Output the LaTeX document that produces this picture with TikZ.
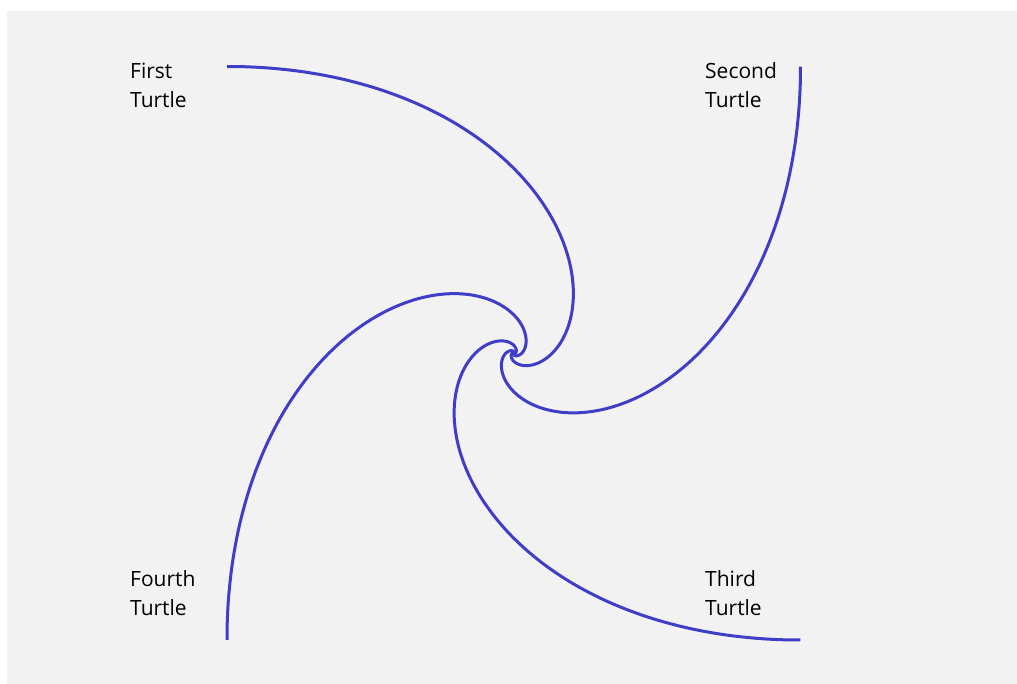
\documentclass[tikz,border=0pt]{standalone}
\usepackage{fontspec}
\setmainfont{Open Sans}
\definecolor{bgpanel}{HTML}{F2F2F2}
\definecolor{turtleblue}{RGB}{62,62,200}
\begin{document}
\begin{tikzpicture}[x=1pt,y=-1pt,
  lbl/.style={anchor=base west,inner sep=0pt,font=\fontsize{21}{28.3}\selectfont,text=black},
  path/.style={draw=turtleblue,line width=3pt,line join=round}]
\useasboundingbox (0,0) rectangle (1017,684);
\fill[white] (0,0) rectangle (1017,684);
\fill[bgpanel] (7,11) rectangle (1017,684);
\def\cx{513.75}
\def\cy{353.25}
\def\R{405.5}
\foreach \th in {135,45,-45,-135}{
  \draw[path] plot[domain=0:7.5,samples=400,smooth,variable=\t]
    ({\cx + \R*exp(-\t)*cos(\th-deg(\t))},{\cy - \R*exp(-\t)*sin(\th-deg(\t))});
}
\node[lbl] (first1) at (130,79) {First};
\node[lbl] (first2) at (130,107.5) {Turtle};
\node[lbl] (second1) at (705,79) {Second};
\node[lbl] (second2) at (705,107.5) {Turtle};
\node[lbl] (third1) at (705,586.7) {Third};
\node[lbl] (third2) at (705,615) {Turtle};
\node[lbl] (fourth1) at (130,586.7) {Fourth};
\node[lbl] (fourth2) at (130,615) {Turtle};
\end{tikzpicture}
\end{document}
